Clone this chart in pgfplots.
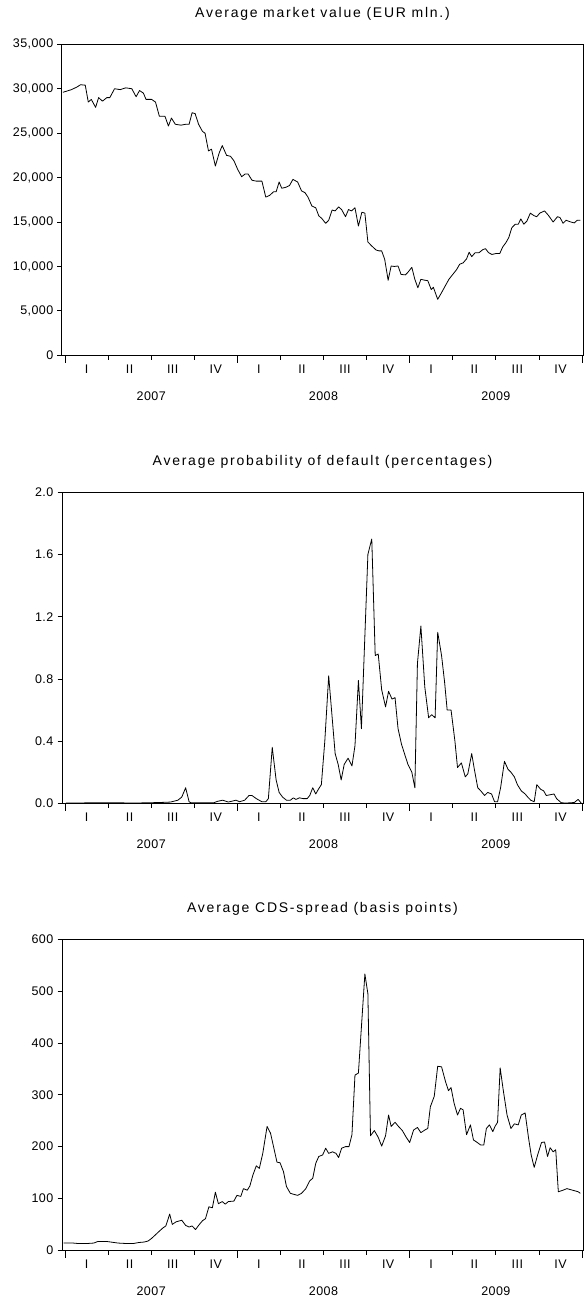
\documentclass[border=0pt]{standalone}
\usepackage{fontspec}
\setmainfont{Liberation Sans}[LetterSpace=3.5]
\newfontfamily\titlefont{Liberation Sans}[LetterSpace=12.5]
\usepackage{pgfplots}
\pgfplotsset{compat=1.18}

\pgfplotsset{
  panel/.style={
    anchor=north west, scale only axis,
    width=521pt, height=311pt,
    xmin=-0.07, xmax=12.023, ymin=0,
    clip=false,
    axis line style={line width=1pt},
    tick style={black, line width=0.8pt},
    tick align=outside,
    xtick pos=left, ytick pos=left,
    major tick length=4.5pt,
    xtick={0,...,12},
    x tick label as interval,
    xticklabels={I,II,III,IV,I,II,III,IV,I,II,III,IV,{}},
    tick label style={font=\fontsize{12.5}{14}\selectfont},
    xticklabel style={anchor=base, yshift=-14pt},
    yticklabel style={anchor=east, inner sep=0pt, xshift=-4pt},
    /pgf/number format/assume math mode=true,
    /pgf/number format/1000 sep={,},
    scaled y ticks=false,
    title style={at={(0.5,1)}, anchor=base, yshift=21pt,
      font=\titlefont\fontsize{14}{16}\selectfont},
  },
  series/.style={black, line width=0.8pt, mark=none, line join=round},
}
\tikzset{yearlab/.style={anchor=base, font=\fontsize{12.5}{14}\selectfont}}

\newcommand{\yearmarks}{%
  \draw[black, line width=0.8pt] (axis cs:0,0) -- ++(0pt,-7.5pt);
  \draw[black, line width=0.8pt] (axis cs:4,0) -- ++(0pt,-7.5pt);
  \draw[black, line width=0.8pt] (axis cs:8,0) -- ++(0pt,-7.5pt);
  \draw[black, line width=0.8pt] (axis cs:12,0) -- ++(0pt,-7.5pt);
  \node[yearlab] at ([yshift=-45.5pt]axis cs:2,0) {2007};
  \node[yearlab] at ([yshift=-45.5pt]axis cs:6,0) {2008};
  \node[yearlab] at ([yshift=-45.5pt]axis cs:10,0) {2009};
}

\begin{document}
\begin{tikzpicture}
\useasboundingbox (0,0) rectangle (584pt,-1300pt);

% market value
\begin{axis}[panel, at={(62pt,-44.3pt)},
  ymax=35000, ytick={0,5000,...,35000},
  title={Average market value (EUR mln.)}]
\addplot[series] coordinates {
(-0.05,29600) (0.02,29700) (0.15,29900) (0.28,30200) (0.36,30450) (0.47,30400)
(0.54,28500) (0.61,28800) (0.71,27900) (0.78,29000) (0.87,28600) (0.97,29000)
(1.04,29000) (1.15,30000) (1.28,29900) (1.41,30100) (1.55,30000) (1.65,29100)
(1.73,29800) (1.82,29500) (1.88,28800) (2.01,28800) (2.10,28500) (2.19,26900)
(2.32,26900) (2.40,25800) (2.47,26700) (2.56,26000) (2.69,25900) (2.80,26000)
(2.88,26000) (2.95,27300) (3.02,27200) (3.10,26000) (3.19,25200) (3.25,25000)
(3.33,23000) (3.40,23200) (3.49,21300) (3.58,22800) (3.65,23600) (3.75,22500)
(3.84,22400) (3.92,21900) (4.01,20900) (4.10,20100) (4.18,20400) (4.25,20400)
(4.34,19700) (4.44,19600) (4.57,19600) (4.66,17800) (4.75,18000) (4.84,18400)
(4.90,18400) (4.97,19500) (5.03,18800) (5.12,18900) (5.21,19100) (5.29,19800)
(5.40,19500) (5.49,18500) (5.57,18300) (5.64,17800) (5.73,16800) (5.82,16600)
(5.89,15700) (5.96,15400) (6.05,14850) (6.12,15200) (6.20,16350) (6.27,16250)
(6.35,16700) (6.42,16400) (6.51,15600) (6.58,16400) (6.65,16250) (6.73,16600)
(6.81,14550) (6.89,16100) (6.96,16000) (7.03,12750) (7.12,12300) (7.22,11850)
(7.29,11750) (7.35,11750) (7.42,10800) (7.50,8450) (7.57,10050) (7.64,10000)
(7.73,10050) (7.80,9100) (7.90,9050) (7.96,9350) (8.05,9900) (8.12,8550)
(8.19,7600) (8.26,8550) (8.35,8450) (8.42,8400) (8.50,7400) (8.55,7650)
(8.65,6300) (8.74,7050) (8.83,7850) (8.91,8550) (9.00,9100) (9.09,9650)
(9.16,10250) (9.24,10400) (9.32,10850) (9.38,11600) (9.44,11100) (9.52,11550)
(9.61,11550) (9.70,11900) (9.76,12000) (9.83,11550) (9.91,11350) (10.00,11450)
(10.09,11450) (10.16,12200) (10.23,12650) (10.30,13250) (10.37,14350) (10.45,14750)
(10.52,14750) (10.58,15350) (10.65,14750) (10.72,15100) (10.80,16000) (10.89,15700)
(10.95,15600) (11.02,16000) (11.13,16250) (11.22,15750) (11.33,15000) (11.43,15600)
(11.49,15500) (11.56,14850) (11.63,15200) (11.74,15000) (11.82,14900) (11.89,15200)
(11.96,15200)
};
\yearmarks
\end{axis}

% probability of default
\begin{axis}[panel, at={(62pt,-492.3pt)},
  ymax=2, ytick={0,0.4,0.8,1.2,1.6,2.0},
  yticklabel style={/pgf/number format/fixed, /pgf/number format/fixed zerofill,
    /pgf/number format/precision=1},
  title={Average probability of default (percentages)}]
\addplot[series] coordinates {
(0.02,0.002) (0.71,0.003) (1.19,0.003) (1.67,0.002) (2.19,0.005) (2.45,0.008)
(2.62,0.02) (2.71,0.04) (2.80,0.10) (2.88,0.01) (2.93,0.003) (3.06,0.003)
(3.45,0.003) (3.53,0.012) (3.66,0.02) (3.79,0.008) (3.97,0.02) (4.05,0.01)
(4.17,0.02) (4.27,0.05) (4.34,0.05) (4.44,0.03) (4.57,0.01) (4.66,0.01)
(4.72,0.03) (4.81,0.36) (4.90,0.15) (4.97,0.07) (5.05,0.04) (5.14,0.02)
(5.23,0.02) (5.30,0.035) (5.36,0.025) (5.44,0.035) (5.53,0.03) (5.62,0.03)
(5.68,0.05) (5.75,0.10) (5.82,0.06) (5.88,0.09) (5.95,0.12) (6.03,0.40)
(6.12,0.82) (6.18,0.62) (6.27,0.32) (6.34,0.25) (6.41,0.15) (6.48,0.25)
(6.57,0.29) (6.66,0.24) (6.73,0.37) (6.81,0.79) (6.88,0.48) (7.03,1.60)
(7.12,1.70) (7.20,0.95) (7.27,0.96) (7.35,0.73) (7.44,0.62) (7.51,0.72)
(7.59,0.67) (7.66,0.68) (7.73,0.48) (7.81,0.38) (7.89,0.31) (7.96,0.25)
(8.05,0.20) (8.12,0.10) (8.18,0.90) (8.26,1.14) (8.35,0.75) (8.44,0.55)
(8.51,0.57) (8.59,0.55) (8.65,1.10) (8.74,0.95) (8.81,0.78) (8.87,0.60)
(8.96,0.60) (9.05,0.40) (9.11,0.23) (9.20,0.26) (9.29,0.17) (9.35,0.19)
(9.44,0.32) (9.50,0.22) (9.58,0.10) (9.65,0.08) (9.74,0.05) (9.81,0.07)
(9.90,0.06) (9.97,0.01) (10.04,0.01) (10.11,0.10) (10.20,0.27) (10.28,0.22)
(10.35,0.20) (10.43,0.17) (10.50,0.12) (10.59,0.08) (10.68,0.06) (10.74,0.04)
(10.81,0.02) (10.89,0.01) (10.95,0.12) (11.04,0.09) (11.11,0.08) (11.17,0.05)
(11.26,0.055) (11.35,0.06) (11.41,0.03) (11.52,0.003) (11.65,0.002) (11.82,0.005)
(11.91,0.025) (11.98,0.002)
};
\yearmarks
\end{axis}

% CDS spread
\begin{axis}[panel, at={(62pt,-939.3pt)},
  ymax=600, ytick={0,100,...,600},
  title={Average CDS-spread (basis points)}]
\addplot[series] coordinates {
(-0.03,14) (0.19,14) (0.32,13) (0.49,13) (0.67,14) (0.76,17) (0.97,17) (1.06,16)
(1.23,14) (1.45,13) (1.58,13) (1.71,15) (1.84,16) (1.93,18) (2.01,23) (2.10,30)
(2.19,37) (2.27,43) (2.34,47) (2.43,70) (2.49,50) (2.58,55) (2.71,58) (2.80,48)
(2.88,45) (2.95,47) (3.03,40) (3.10,48) (3.19,57) (3.26,61) (3.34,84) (3.42,82)
(3.49,112) (3.56,90) (3.65,94) (3.72,89) (3.79,94) (3.92,95) (3.99,106) (4.08,104)
(4.14,119) (4.23,116) (4.29,124) (4.36,145) (4.44,163) (4.51,158) (4.59,187) (4.69,239)
(4.77,226) (4.84,200) (4.92,170) (4.99,169) (5.07,152) (5.14,123) (5.23,110) (5.31,108)
(5.40,106) (5.49,110) (5.59,119) (5.68,134) (5.75,139) (5.82,168) (5.89,181) (5.98,184)
(6.05,197) (6.12,187) (6.21,190) (6.29,187) (6.35,179) (6.42,197) (6.51,200) (6.59,200)
(6.66,223) (6.73,338) (6.81,342) (6.96,533) (7.03,495) (7.09,221) (7.18,231) (7.27,218)
(7.35,201) (7.44,221) (7.51,261) (7.57,239) (7.66,247) (7.74,239) (7.83,231) (7.92,218)
(8.00,208) (8.09,232) (8.18,237) (8.26,227) (8.35,232) (8.42,235) (8.48,277) (8.57,297)
(8.65,355) (8.74,354) (8.83,326) (8.90,308) (8.96,314) (9.03,284) (9.11,261) (9.18,274)
(9.24,271) (9.32,223) (9.41,242) (9.48,213) (9.57,208) (9.65,203) (9.72,203) (9.78,235)
(9.85,242) (9.93,229) (9.98,239) (10.04,247) (10.10,352) (10.17,310) (10.26,261) (10.35,235)
(10.43,244) (10.52,242) (10.59,261) (10.68,265) (10.76,216) (10.82,184) (10.89,160) (10.97,184)
(11.06,208) (11.13,209) (11.20,181) (11.26,198) (11.33,190) (11.39,194) (11.45,113) (11.56,116)
(11.65,119) (11.78,116) (11.91,113) (11.96,110)
};
\yearmarks
\end{axis}
\end{tikzpicture}
\end{document}
